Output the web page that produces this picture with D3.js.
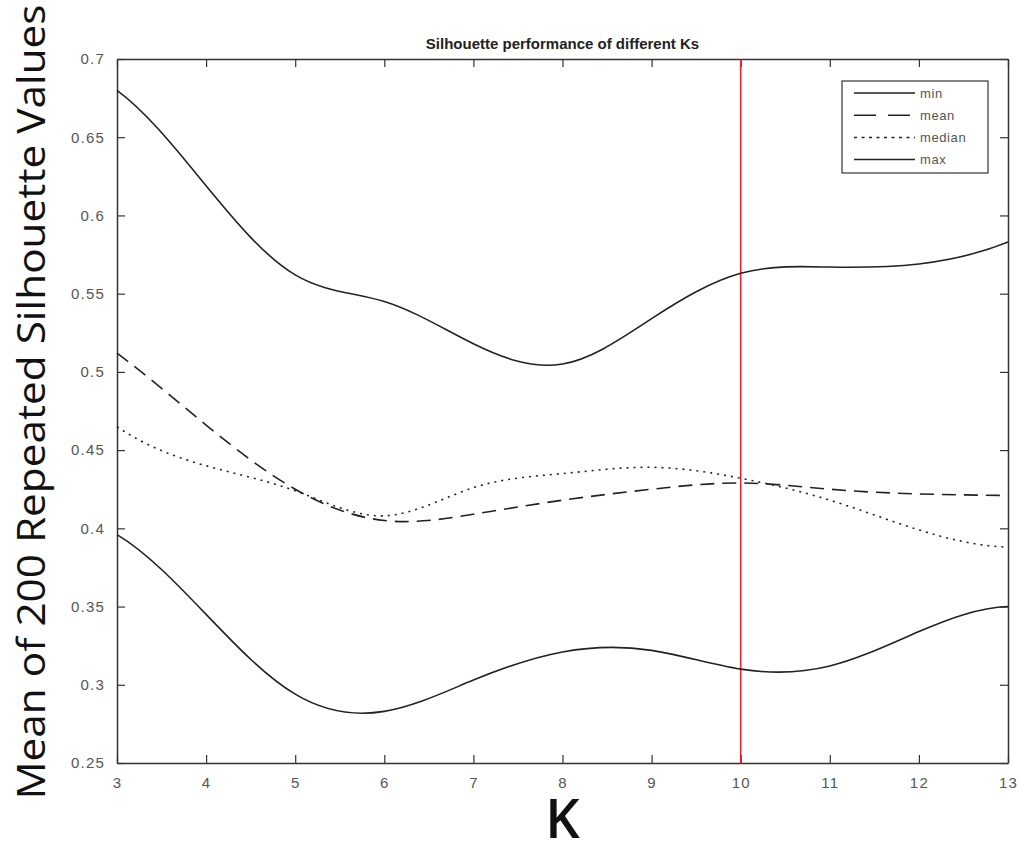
<!DOCTYPE html>
<html>
<head>
<meta charset="utf-8">
<script src="https://cdn.jsdelivr.net/npm/d3@7"></script>
<style>
  html, body { margin: 0; padding: 0; background: #fff; }
  svg { display: block; }
</style>
</head>
<body>
<svg id="chart" width="1026" height="848"></svg>
<script>
// Number of clusters tried
const ks = [3, 4, 5, 6, 7, 8, 9, 10, 11, 12, 13];

// Silhouette summaries across 200 repeats, one value per K
const minVals    = [0.396, 0.345, 0.294, 0.283, 0.303, 0.321, 0.322, 0.310, 0.312, 0.334, 0.350];
const meanVals   = [0.512, 0.466, 0.425, 0.405, 0.409, 0.418, 0.425, 0.429, 0.425, 0.422, 0.421];
const medianVals = [0.465, 0.440, 0.424, 0.408, 0.426, 0.435, 0.439, 0.432, 0.418, 0.399, 0.388];
const maxVals    = [0.680, 0.619, 0.562, 0.545, 0.518, 0.505, 0.534, 0.563, 0.567, 0.569, 0.583];

const seriesNames = ["min", "mean", "median", "max"];
const xTicks = [3, 4, 5, 6, 7, 8, 9, 10, 11, 12, 13];
const yTicks = [0.25, 0.3, 0.35, 0.4, 0.45, 0.5, 0.55, 0.6, 0.65, 0.7];
const chosenK = 10;

// Cubic spline curve with "not-a-knot" end conditions, usable as a d3 curve factory
function curveNotAKnot(context) {
  let xs, ys;
  return {
    areaStart() {}, areaEnd() {},
    lineStart() { xs = []; ys = []; },
    point(px, py) { xs.push(+px); ys.push(+py); },
    lineEnd() {
      const n = xs.length;
      if (n === 0) return;
      context.moveTo(xs[0], ys[0]);
      if (n < 4) { for (let i = 1; i < n; i++) context.lineTo(xs[i], ys[i]); return; }
      const h = d3.range(n - 1).map(i => xs[i + 1] - xs[i]);
      // Linear system A·M = b for the second derivatives M
      const A = d3.range(n).map(() => new Array(n).fill(0));
      const b = new Array(n).fill(0);
      A[0][0] = h[1]; A[0][1] = -(h[0] + h[1]); A[0][2] = h[0];
      for (let i = 1; i < n - 1; i++) {
        A[i][i - 1] = h[i - 1];
        A[i][i] = 2 * (h[i - 1] + h[i]);
        A[i][i + 1] = h[i];
        b[i] = 6 * ((ys[i + 1] - ys[i]) / h[i] - (ys[i] - ys[i - 1]) / h[i - 1]);
      }
      A[n - 1][n - 3] = h[n - 2]; A[n - 1][n - 2] = -(h[n - 3] + h[n - 2]); A[n - 1][n - 1] = h[n - 3];
      // Gaussian elimination with partial pivoting
      for (let c = 0; c < n; c++) {
        let p = c;
        for (let r = c + 1; r < n; r++) if (Math.abs(A[r][c]) > Math.abs(A[p][c])) p = r;
        [A[c], A[p]] = [A[p], A[c]]; [b[c], b[p]] = [b[p], b[c]];
        for (let r = c + 1; r < n; r++) {
          const f = A[r][c] / A[c][c];
          if (!f) continue;
          for (let k = c; k < n; k++) A[r][k] -= f * A[c][k];
          b[r] -= f * b[c];
        }
      }
      const M = new Array(n).fill(0);
      for (let r = n - 1; r >= 0; r--) {
        let s = b[r];
        for (let k = r + 1; k < n; k++) s -= A[r][k] * M[k];
        M[r] = s / A[r][r];
      }
      for (let i = 0; i < n - 1; i++) {
        const hi = h[i], sl = (ys[i + 1] - ys[i]) / hi;
        const d0 = sl - hi * (2 * M[i] + M[i + 1]) / 6;
        const d1 = sl + hi * (M[i] + 2 * M[i + 1]) / 6;
        context.bezierCurveTo(
          xs[i] + hi / 3, ys[i] + d0 * hi / 3,
          xs[i + 1] - hi / 3, ys[i + 1] - d1 * hi / 3,
          xs[i + 1], ys[i + 1]
        );
      }
    }
  };
}

(function draw() {
  const svg = d3.select("#chart");
  const plotLeft = 117, plotRight = 1008, plotTop = 59, plotBottom = 763;

  const x = d3.scaleLinear().domain([3, 13]).range([plotLeft, plotRight]);
  const y = d3.scaleLinear().domain([0.25, 0.7]).range([plotBottom, plotTop]);

  const axisColor = "#333";
  const labelColor = "#555";
  const tickFont = "Liberation Sans, Arial, Helvetica, sans-serif";

  // Axes with inward ticks on all four sides
  const tickLen = 8;
  const bottomAxis = d3.axisBottom(x).tickValues(xTicks).tickSizeInner(-tickLen).tickSizeOuter(0).tickPadding(14).tickFormat(d3.format("d"));
  const leftAxis = d3.axisLeft(y).tickValues(yTicks).tickSizeInner(-tickLen).tickSizeOuter(0).tickPadding(12).tickFormat(d => String(+d.toFixed(2)));
  const topAxis = d3.axisTop(x).tickValues(xTicks).tickSizeInner(-tickLen).tickSizeOuter(0).tickFormat("");
  const rightAxis = d3.axisRight(y).tickValues(yTicks).tickSizeInner(-tickLen).tickSizeOuter(0).tickFormat("");

  function styleAxis(g) {
    g.select(".domain").attr("stroke", axisColor).attr("stroke-width", 1.5);
    g.selectAll(".tick line").attr("stroke", axisColor).attr("stroke-width", 1.2);
    g.selectAll(".tick text").attr("fill", labelColor).attr("font-family", tickFont)
      .attr("font-size", 15).attr("letter-spacing", 1.2);
  }

  svg.append("g").attr("transform", `translate(0,${plotBottom})`).call(bottomAxis).call(styleAxis);
  svg.append("g").attr("transform", `translate(${plotLeft},0)`).call(leftAxis).call(styleAxis);
  svg.append("g").attr("transform", `translate(0,${plotTop})`).call(topAxis).call(styleAxis);
  svg.append("g").attr("transform", `translate(${plotRight},0)`).call(rightAxis).call(styleAxis);

  // Vertical marker at the chosen K
  svg.append("line")
    .attr("x1", x(chosenK)).attr("x2", x(chosenK))
    .attr("y1", y(0.7)).attr("y2", y(0.25))
    .attr("stroke", "#e8202a").attr("stroke-width", 1.5);

  // Smooth curves through the per-K values
  const line = d3.line()
    .x((d, i) => x(ks[i]))
    .y(d => y(d))
    .curve(curveNotAKnot);

  const series = [
    { name: "min", values: minVals, dash: null },
    { name: "mean", values: meanVals, dash: "14,8" },
    { name: "median", values: medianVals, dash: "2,5" },
    { name: "max", values: maxVals, dash: null }
  ];

  svg.append("g").selectAll("path")
    .data(series)
    .join("path")
    .attr("d", d => line(d.values))
    .attr("fill", "none")
    .attr("stroke", "#222")
    .attr("stroke-width", 1.6)
    .attr("stroke-dasharray", d => d.dash);

  // Legend
  const legend = svg.append("g").attr("transform", "translate(842,81)");
  legend.append("rect")
    .attr("width", 146).attr("height", 92)
    .attr("fill", "#fff").attr("stroke", axisColor).attr("stroke-width", 1.2);

  const legendDash = { min: null, mean: "22,12,22,100", median: "3,4.5", max: null };
  seriesNames.forEach((name, i) => {
    const ry = 12 + i * 22.2;
    legend.append("line")
      .attr("x1", 12).attr("x2", 73).attr("y1", ry).attr("y2", ry)
      .attr("stroke", "#222").attr("stroke-width", 1.5)
      .attr("stroke-dasharray", legendDash[name]);
    legend.append("text")
      .attr("x", 78).attr("y", ry).attr("dy", "0.35em")
      .attr("font-family", tickFont).attr("font-size", 13).attr("letter-spacing", 0.6)
      .attr("fill", labelColor)
      .text(name);
  });

  // Title
  svg.append("text")
    .attr("x", (plotLeft + plotRight) / 2).attr("y", 49)
    .attr("text-anchor", "middle")
    .attr("font-family", tickFont).attr("font-size", 15).attr("font-weight", "bold")
    .attr("fill", "#222")
    .text("Silhouette performance of different Ks");

  // Axis titles
  svg.append("text")
    .attr("transform", "translate(45,402) rotate(-90)")
    .attr("text-anchor", "middle")
    .attr("font-family", "Open Sans, Noto Sans, sans-serif").attr("font-size", 39)
    .attr("textLength", 795).attr("lengthAdjust", "spacingAndGlyphs")
    .attr("fill", "#111")
    .text("Mean of 200 Repeated Silhouette Values");

  svg.append("text")
    .attr("x", (plotLeft + plotRight) / 2).attr("y", 838)
    .attr("text-anchor", "middle")
    .attr("font-family", "Open Sans, Noto Sans, sans-serif").attr("font-size", 54)
    .attr("font-weight", 600)
    .attr("fill", "#111")
    .text("K");
})();
</script>
</body>
</html>
